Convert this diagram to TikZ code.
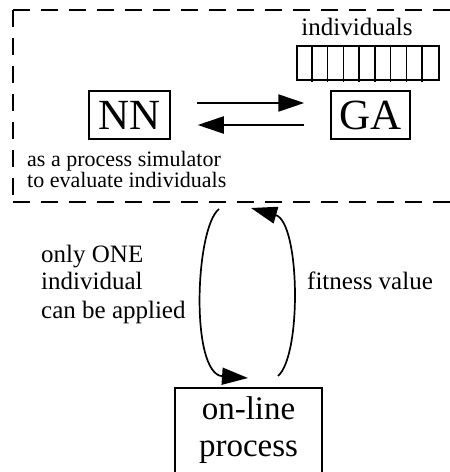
\documentclass[tikz,border=0pt]{standalone}
\usepackage{fontspec}
\setmainfont{Liberation Serif}
\usetikzlibrary{arrows.meta,calc}
\begin{document}
\begin{tikzpicture}[x=1pt,y=-1pt,
  boxstyle/.style={draw,line width=1.5pt,inner sep=0pt},
  dashline/.style={line width=1.9pt,dash pattern=on 17pt off 11pt},
  bigarrow/.style={line width=2.2pt,-{Triangle[length=26pt,width=17pt]}},
  looparrow/.style={line width=1.7pt,-{Triangle[length=26pt,width=17pt]}},
  lbl/.style={inner sep=0pt,anchor=base west}]
\useasboundingbox (0,0) rectangle (450,472);
% dashed region
\draw[dashline] (13,10) -- (470,10);
\draw[dashline] (13,10) -- (13,202);
\draw[dashline] (13,202) -- (470,202);
% population array
\node[boxstyle,minimum width=142pt,minimum height=34pt,anchor=north west] (pop) at (296,45) {};
\foreach \i in {1,...,8}{
  \draw[line width=1.6pt] ($(pop.north west)+(\i*15.78,0)$) -- ++(0,37);
}
\node[font=\fontsize{25}{28}\selectfont,inner sep=0pt,anchor=base] (indlbl) at (357,35) {individuals};
% NN and GA
\node[boxstyle,minimum width=81pt,minimum height=48pt,font=\fontsize{43}{46}\selectfont] (NN) at (129.5,115) {NN};
\node[boxstyle,minimum width=79pt,minimum height=48pt,font=\fontsize{43}{46}\selectfont] (GA) at (370.5,115) {GA};
\draw[bigarrow] ($(NN.east)+(26,-12)$) -- ($(GA.west)+(-26,-12)$);
\draw[bigarrow] ($(GA.west)+(-26,10)$) -- ($(NN.east)+(27,10)$);
\node[lbl,font=\fontsize{22}{24}\selectfont] (sim1) at (27,166.5) {as a process simulator};
\node[lbl,font=\fontsize{22}{24}\selectfont] (sim2) at (27,187.5) {to evaluate individuals};
% on-line process
\node[boxstyle,minimum width=147pt,minimum height=100pt,anchor=north] (online) at (248.5,387) {};
\node[font=\fontsize{33}{37}\selectfont,inner sep=0pt,anchor=base] (ol1) at (248.5,419) {on-line};
\node[font=\fontsize{33}{37}\selectfont,inner sep=0pt,anchor=base] (ol2) at (248.5,456) {process};
% loop
\coordinate (ltop) at (219,209);
\coordinate (rtip) at (251,208);
\coordinate (lbot) at (248,378);
\coordinate (rbot) at (278,376);
\draw[looparrow] (ltop) .. controls (195,228) and (190,374) .. (lbot);
\draw[looparrow] (rbot) .. controls (302,355) and (300,222) .. (rtip);
\node[lbl,font=\fontsize{25}{28}\selectfont] (t1) at (41,262) {only ONE};
\node[lbl,font=\fontsize{25}{28}\selectfont] (t2) at (41,289) {individual};
\node[lbl,font=\fontsize{25}{28}\selectfont] (t3) at (41,318) {can be applied};
\node[lbl,font=\fontsize{25}{28}\selectfont] (fit) at (307,289) {fitness value};
\end{tikzpicture}
\end{document}
